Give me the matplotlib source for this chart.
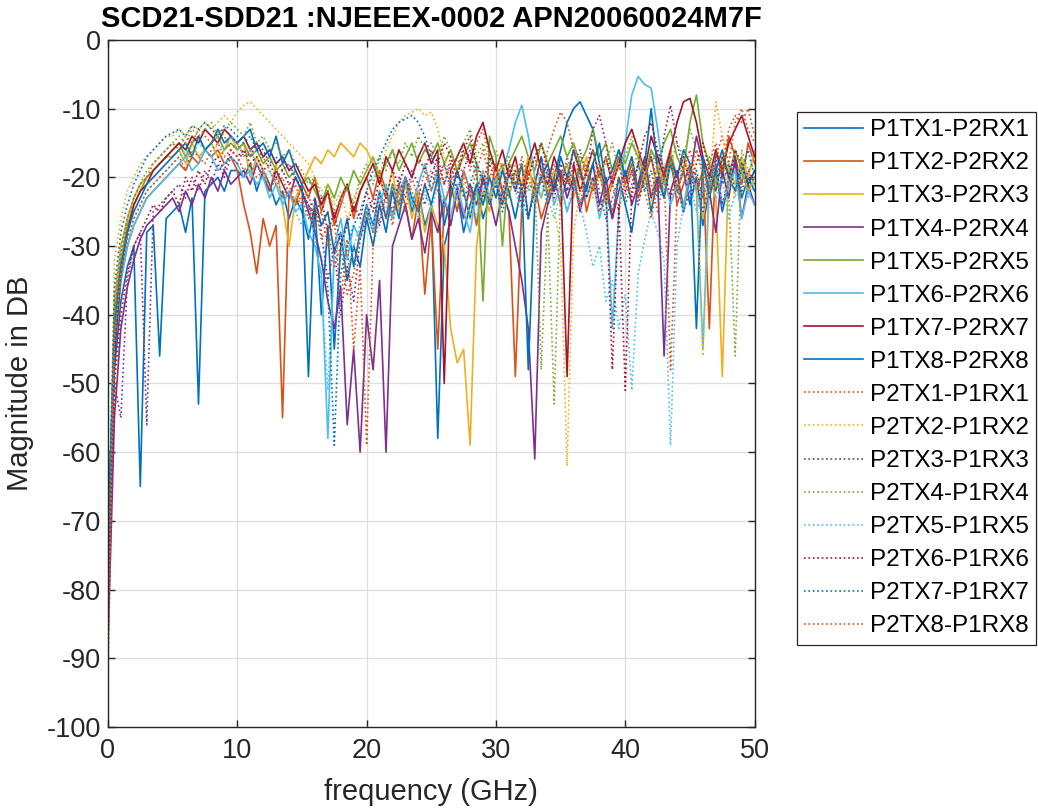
import numpy as np
import matplotlib
matplotlib.use("Agg")
import matplotlib.pyplot as plt

plt.rcParams['font.family'] = ['Liberation Sans', 'DejaVu Sans']
plt.rcParams['axes.unicode_minus'] = False

# frequency grid (GHz), 0.5 GHz steps
freq = np.arange(0, 50.01, 0.5)

# magnitude (dB), 10 values per 5 GHz
p1tx1 = [-70, -48, -38, -33, -30, -65, -28, -27, -46, -26,
         -25, -24, -28, -23, -53, -22, -21, -20, -22, -19,
         -19, -20, -18, -22, -19, -21, -24, -22, -26, -23,
         -25, -29, -24, -40, -27, -45, -30, -26, -33, -28,
         -24, -27, -22, -26, -21, -24, -20, -25, -22, -27,
         -24, -58, -30, -26, -22, -28, -24, -21, -26, -23,
         -20, -24, -19, -22, -18, -26, -21, -17, -23, -20,
         -16, -12, -10, -9, -11, -13, -18, -22, -26, -20,
         -24, -28, -21, -19, -25, -20, -23, -18, -22, -19,
         -24, -20, -27, -22, -19, -25, -21, -18, -23, -20,
         -22]
p1tx2 = [-78, -45, -35, -30, -27, -25, -23, -22, -21, -20,
         -19, -18, -19, -17, -18, -16, -17, -16, -18, -17,
         -19, -24, -28, -34, -26, -30, -27, -55, -22, -24,
         -21, -23, -20, -25, -22, -27, -24, -21, -26, -22,
         -20, -23, -19, -22, -26, -21, -24, -29, -23, -37,
         -26, -45, -24, -21, -25, -19, -22, -27, -20, -23,
         -18, -22, -25, -49, -24, -19, -21, -26, -23, -20,
         -24, -20, -22, -18, -25, -21, -19, -23, -20, -17,
         -21, -18, -23, -20, -17, -22, -19, -16, -24, -21,
         -18, -22, -19, -42, -16, -20, -14, -17, -21, -15,
         -18]
p1tx3 = [-85, -38, -30, -26, -23, -21, -20, -19, -18, -17,
         -17, -16, -18, -15, -17, -16, -15, -17, -16, -14,
         -16, -15, -20, -17, -19, -22, -18, -24, -30, -23,
         -21, -19, -17, -18, -16, -17, -15, -16, -17, -15,
         -16, -18, -20, -23, -19, -25, -21, -26, -22, -28,
         -24, -27, -30, -42, -47, -45, -59, -30, -22, -25,
         -20, -18, -23, -19, -21, -17, -24, -20, -22, -19,
         -21, -18, -23, -20, -17, -22, -19, -24, -21, -18,
         -20, -17, -22, -19, -23, -18, -21, -16, -20, -24,
         -19, -22, -26, -20, -23, -49, -18, -21, -17, -20,
         -16]
p1tx4 = [-88, -55, -42, -36, -32, -29, -27, -26, -25, -24,
         -23, -25, -22, -24, -21, -23, -20, -22, -19, -21,
         -20, -19, -21, -18, -20, -22, -19, -21, -23, -20,
         -22, -25, -28, -32, -38, -42, -36, -56, -45, -60,
         -40, -48, -35, -60, -30, -27, -24, -29, -26, -31,
         -25, -28, -23, -27, -22, -26, -21, -24, -20, -23,
         -27, -22, -25, -30, -35, -42, -61, -28, -24, -21,
         -19, -23, -20, -25, -21, -18, -24, -20, -26, -22,
         -19, -24, -21, -17, -23, -20, -46, -22, -19, -25,
         -20, -14, -18, -22, -28, -19, -23, -17, -26, -21,
         -24]
p1tx5 = [-75, -40, -32, -27, -24, -22, -20, -19, -18, -17,
         -16, -15, -17, -15, -14, -16, -15, -14, -16, -15,
         -16, -15, -17, -16, -18, -17, -19, -18, -20, -19,
         -21, -20, -22, -24, -21, -23, -20, -22, -19, -21,
         -19, -17, -20, -18, -16, -19, -17, -15, -18, -16,
         -17, -15, -18, -16, -19, -17, -15, -18, -38, -14,
         -17, -30, -18, -16, -14, -17, -19, -15, -18, -16,
         -14, -17, -15, -18, -16, -13, -17, -15, -19, -16,
         -18, -15, -17, -20, -16, -18, -15, -13, -17, -19,
         -12, -8, -15, -18, -22, -17, -20, -16, -19, -22,
         -20]
p1tx6 = [-80, -44, -35, -30, -27, -25, -23, -22, -21, -20,
         -19, -18, -17, -19, -18, -16, -17, -19, -18, -17,
         -18, -20, -19, -21, -20, -23, -21, -24, -22, -25,
         -24, -28, -30, -34, -58, -30, -26, -32, -27, -29,
         -25, -28, -24, -21, -26, -22, -20, -24, -21, -18,
         -22, -19, -23, -26, -21, -25, -28, -22, -19, -23,
         -20, -19, -16, -12, -9.5, -14, -20, -23, -19, -24,
         -21, -25, -22, -19, -23, -20, -26, -22, -42, -25,
         -15, -8, -5.3, -6.5, -7, -13, -20, -24, -21, -25,
         -19, -22, -45, -20, -18, -24, -21, -19, -26, -22,
         -24]
p1tx7 = [-82, -46, -34, -28, -24, -22, -21, -19, -18, -17,
         -16, -15, -16, -14, -15, -13, -14, -15, -13, -14,
         -15, -14, -16, -15, -17, -16, -18, -17, -19, -18,
         -20, -22, -21, -24, -22, -26, -23, -21, -25, -22,
         -20, -18, -21, -17, -19, -16, -18, -20, -17, -15,
         -18, -16, -50, -19, -17, -15, -18, -14, -12, -16,
         -19, -16, -20, -17, -22, -18, -15, -19, -21, -17,
         -20, -49, -18, -22, -19, -16, -20, -17, -21, -18,
         -15, -13, -16, -19, -14, -17, -20, -16, -12, -9,
         -8.5, -12, -17, -20, -16, -19, -15, -13, -11, -14,
         -17]
p1tx8 = [-72, -42, -33, -28, -25, -23, -21, -20, -19, -18,
         -17, -16, -15, -17, -14, -16, -15, -13, -15, -14,
         -15, -14, -13, -16, -15, -17, -14, -18, -16, -19,
         -21, -49, -23, -27, -25, -31, -28, -35, -30, -33,
         -26, -30, -24, -28, -22, -26, -20, -23, -25, -21,
         -24, -20, -27, -23, -19, -22, -26, -21, -24, -20,
         -23, -19, -22, -26, -21, -48, -24, -20, -18, -22,
         -17, -20, -16, -19, -22, -18, -15, -21, -19, -16,
         -20, -17, -22, -18, -10, -19, -23, -17, -20, -16,
         -18, -42, -17, -23, -19, -16, -20, -22, -18, -21,
         -19]
p2tx1 = [-93, -40, -31, -26, -23, -21, -20, -18, -17, -16,
         -15, -16, -14, -15, -13, -14, -15, -13, -14, -16,
         -15, -17, -16, -18, -17, -19, -21, -20, -23, -21,
         -24, -22, -27, -25, -30, -26, -38, -29, -45, -33,
         -59, -30, -26, -23, -27, -22, -25, -20, -23, -19,
         -22, -18, -21, -17, -20, -16, -19, -15, -13, -17,
         -20, -18, -22, -19, -23, -20, -17, -21, -16, -13,
         -10.5, -12, -16, -20, -18, -22, -19, -24, -21, -25,
         -20, -23, -18, -22, -26, -21, -19, -48, -23, -17,
         -20, -16, -19, -22, -17, -14, -18, -12, -10, -13,
         -15]
p2tx2 = [-90, -32, -26, -22, -20, -18, -17, -16, -15, -14,
         -14, -13, -14, -12.5, -13, -12, -13, -12, -11, -12,
         -10.5, -9.5, -9, -10, -11, -12, -13, -14, -15, -16,
         -17, -18, -20, -22, -21, -24, -22, -26, -23, -21,
         -19, -17, -20, -16, -14, -12, -11, -10.5, -10, -11,
         -10.5, -13, -17, -20, -24, -21, -26, -22, -19, -23,
         -20, -24, -21, -18, -22, -17, -20, -23, -19, -25,
         -30, -62, -28, -22, -19, -23, -20, -17, -21, -18,
         -22, -19, -16, -20, -24, -18, -21, -17, -22, -19,
         -18, -20, -46, -22, -9, -14, -19, -23, -18, -22,
         -20]
p2tx3 = [-86, -50, -55, -35, -30, -28, -56, -25, -24, -23,
         -22, -21, -23, -20, -22, -19, -21, -18, -20, -17,
         -18, -16, -17, -15, -16, -18, -17, -19, -18, -20,
         -22, -25, -23, -28, -35, -30, -40, -33, -38, -29,
         -26, -23, -27, -22, -25, -20, -23, -19, -21, -24,
         -20, -17, -21, -18, -22, -19, -16, -20, -23, -18,
         -21, -24, -19, -22, -18, -26, -21, -17, -20, -23,
         -19, -22, -18, -16, -20, -13, -11, -15, -21, -18,
         -22, -19, -24, -20, -17, -21, -14, -9.5, -15, -19,
         -23, -20, -25, -21, -18, -24, -20, -17, -22, -19,
         -21]
p2tx4 = [-79, -38, -30, -26, -23, -21, -19, -18, -17, -16,
         -15, -14, -15, -13, -14, -13, -12, -14, -13, -12,
         -13, -14, -12, -15, -14, -16, -15, -17, -16, -18,
         -19, -21, -20, -23, -22, -25, -23, -21, -24, -20,
         -18, -21, -17, -19, -16, -18, -15, -17, -14, -16,
         -15, -17, -14, -16, -19, -15, -13, -17, -15, -18,
         -16, -19, -17, -21, -18, -22, -20, -48, -25, -53,
         -22, -18, -21, -17, -19, -16, -20, -18, -15, -19,
         -17, -14, -18, -21, -16, -19, -22, -18, -15, -17,
         -13, -16, -20, -17, -21, -18, -22, -46, -16, -19,
         -18]
p2tx5 = [-83, -44, -34, -29, -26, -24, -22, -21, -20, -19,
         -18, -17, -16, -17, -15, -16, -17, -15, -16, -14,
         -15, -17, -16, -18, -20, -19, -21, -23, -22, -25,
         -27, -24, -29, -35, -51, -32, -28, -34, -30, -27,
         -24, -27, -22, -25, -21, -24, -20, -23, -26, -22,
         -25, -21, -24, -20, -23, -19, -22, -26, -21, -24,
         -20, -23, -19, -22, -25, -21, -24, -20, -23, -26,
         -22, -25, -21, -24, -28, -33, -30, -38, -35, -42,
         -37, -51, -34, -29, -25, -28, -32, -59, -30, -24,
         -21, -25, -22, -19, -23, -20, -26, -22, -19, -23,
         -21]
p2tx6 = [-84, -50, -40, -34, -30, -28, -26, -24, -25, -23,
         -22, -24, -20, -22, -19, -21, -18, -17, -19, -16,
         -17, -16, -18, -17, -19, -18, -20, -19, -21, -20,
         -22, -24, -26, -23, -28, -25, -30, -27, -24, -26,
         -22, -25, -20, -23, -19, -21, -18, -20, -17, -19,
         -16, -18, -15, -17, -20, -16, -14, -18, -21, -17,
         -19, -22, -18, -21, -24, -20, -17, -15, -19, -22,
         -18, -21, -16, -19, -23, -20, -25, -22, -48, -24,
         -51, -22, -18, -14, -12, -16, -19, -23, -20, -17,
         -21, -18, -15, -19, -22, -17, -20, -16, -18, -21,
         -19]
p2tx7 = [-76, -36, -28, -24, -21, -19, -17, -16, -15, -14,
         -13.5, -13, -14, -12.5, -13, -12, -13, -14, -12.5, -13,
         -14, -15, -14, -16, -17, -16, -18, -17, -19, -20,
         -22, -24, -28, -32, -36, -59, -34, -30, -27, -25,
         -22, -19, -17, -15, -13, -12, -11.5, -11, -12, -14,
         -17, -20, -18, -22, -19, -23, -21, -18, -20, -24,
         -21, -25, -22, -19, -23, -26, -22, -20, -24, -21,
         -19, -22, -20, -24, -21, -18, -22, -26, -23, -20,
         -24, -21, -18, -22, -19, -23, -20, -17, -21, -25,
         -22, -19, -23, -20, -17, -21, -18, -22, -19, -16,
         -20]
p2tx8 = [-88, -44, -34, -29, -26, -24, -22, -21, -20, -19,
         -18, -17, -19, -16, -17, -18, -16, -15, -17, -16,
         -17, -19, -18, -20, -19, -22, -20, -23, -21, -24,
         -23, -26, -24, -29, -27, -33, -30, -37, -34, -28,
         -25, -28, -23, -26, -21, -24, -20, -22, -25, -21,
         -19, -22, -18, -21, -17, -20, -23, -19, -16, -20,
         -18, -22, -19, -21, -17, -20, -23, -19, -22, -18,
         -21, -17, -20, -24, -19, -22, -18, -21, -25, -20,
         -23, -19, -22, -18, -21, -25, -20, -17, -22, -19,
         -16, -20, -23, -18, -15, -19, -13, -11, -12, -10,
         -14]

series = [p1tx1, p1tx2, p1tx3, p1tx4, p1tx5, p1tx6, p1tx7, p1tx8,
          p2tx1, p2tx2, p2tx3, p2tx4, p2tx5, p2tx6, p2tx7, p2tx8]
labels = ['P1TX1-P2RX1', 'P1TX2-P2RX2', 'P1TX3-P2RX3', 'P1TX4-P2RX4',
          'P1TX5-P2RX5', 'P1TX6-P2RX6', 'P1TX7-P2RX7', 'P1TX8-P2RX8',
          'P2TX1-P1RX1', 'P2TX2-P1RX2', 'P2TX3-P1RX3', 'P2TX4-P1RX4',
          'P2TX5-P1RX5', 'P2TX6-P1RX6', 'P2TX7-P1RX7', 'P2TX8-P1RX8']

# matlab default colour order
colors = ['#0072BD', '#D95319', '#EDB120', '#7E2F8E',
          '#77AC30', '#4DBEEE', '#A2142F']

fig = plt.figure(figsize=(10.38, 8.09), dpi=100)
ax = fig.add_axes([0.104, 0.1014, 0.623, 0.8492])

for i, (y, lab) in enumerate(zip(series, labels)):
    ls = '-' if i < 8 else ':'
    ax.plot(freq, y, ls, color=colors[i % 7], lw=1.2, label=lab)

ax.set_xlim(0, 50)
ax.set_ylim(-100, 0)
ax.set_xticks(np.arange(0, 51, 10))
ax.set_yticks(np.arange(-100, 1, 10))
ax.grid(True, color='#dedede', lw=0.9)
ax.set_axisbelow(True)
ax.tick_params(direction='in', length=5, width=1, top=True, right=True,
               labelsize=19.5, colors='#262626', pad=5)
ax.tick_params(axis='x', pad=8)
for sp in ax.spines.values():
    sp.set_color('#262626')
    sp.set_linewidth(1.0)

ax.set_xlabel('frequency (GHz)', fontsize=21, color='#262626', labelpad=10)
ax.set_ylabel('Magnitude in DB', fontsize=21, color='#262626', labelpad=9)
ax.set_title('SCD21-SDD21 :NJEEEX-0002 APN20060024M7F', fontsize=21,
             fontweight='bold', pad=9)

leg = ax.legend(loc='upper left', bbox_to_anchor=(797 / 1038, 1 - 112 / 809),
                bbox_transform=fig.transFigure, borderaxespad=0, fontsize=17.5,
                fancybox=False, framealpha=1, edgecolor='#262626',
                handlelength=2.4, handletextpad=0.3, labelspacing=0.455,
                borderpad=0.3)
leg.get_frame().set_linewidth(0.9)

fig.savefig('out.png', dpi=100)
